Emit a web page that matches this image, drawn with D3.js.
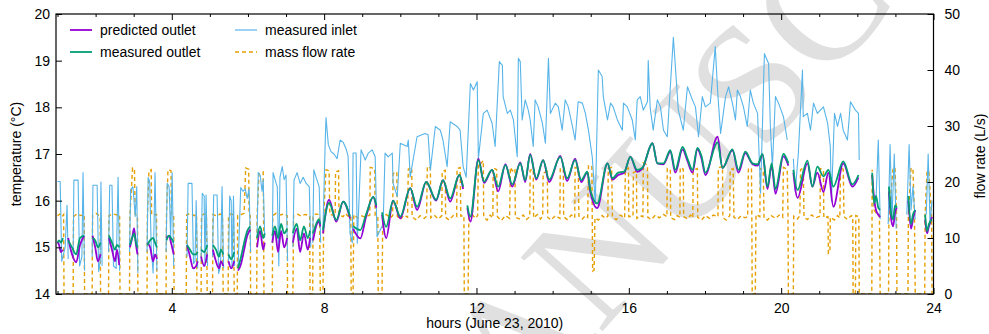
<!DOCTYPE html>
<html><head><meta charset="utf-8">
<script src="https://cdn.jsdelivr.net/npm/d3@7"></script>
<style>
html,body{margin:0;padding:0;background:#fff;}
svg{display:block;font-family:"Liberation Sans",Arial,Helvetica,sans-serif;}
</style></head><body>
<svg id="chart" width="989" height="334"></svg>
<script>
// ---------- tick labels / names ----------
const xTicksMajor = [4, 8, 12, 16, 20, 24];
const xTicksMinor = [1, 2, 3, 5, 6, 7, 9, 10, 11, 13, 14, 15, 17, 18, 19, 21, 22, 23];
const tempTicks = [14, 15, 16, 17, 18, 19, 20];
const flowTicks = [0, 10, 20, 30, 40, 50];
const seriesNames = ["predicted outlet", "measured outlet", "measured inlet", "mass flow rate"];

// ---------- data: [hour, value]; null = no data ----------
const predictedOutlet = [
[1.00,15.12],[1.04,15.05],[1.09,14.90],[1.14,14.95],[1.20,null],
[1.28,15.20],[1.38,14.85],[1.49,14.68],[1.59,15.05],[1.70,15.25],[1.80,null],
[1.92,15.25],[1.99,15.00],[2.06,14.70],[2.13,14.85],[2.25,null],
[2.35,15.20],[2.43,14.95],[2.51,14.70],[2.56,14.95],[2.62,14.62],[2.77,null],
[2.90,15.00],[2.96,15.20],[3.01,15.41],[3.06,15.05],[3.10,14.85],[3.22,null],
[3.36,15.10],[3.43,15.00],[3.51,14.70],[3.56,14.85],[3.61,14.75],[3.75,null],
[3.86,15.20],[3.93,15.25],[3.98,15.10],[4.05,14.85],[4.22,null],
[4.40,15.05],[4.48,14.80],[4.56,14.55],[4.64,14.60],[4.68,14.70],[4.72,null],
[4.77,14.80],[4.85,14.60],[4.93,14.85],[5.01,null],
[5.08,14.95],[5.16,14.70],[5.24,14.55],[5.29,14.70],[5.35,14.60],[5.43,null],
[5.49,14.70],[5.56,14.55],[5.64,14.70],[5.69,null],
[5.74,14.50],[5.82,14.65],[5.90,14.95],[5.98,15.25],[6.06,15.38],[6.14,null],
[6.24,15.00],[6.32,15.35],[6.40,14.95],[6.44,15.10],[6.53,null],
[6.64,15.10],[6.71,15.35],[6.79,14.90],[6.87,15.35],[6.95,15.00],[7.03,15.20],[7.11,null],
[7.18,15.10],[7.28,15.40],[7.37,14.90],[7.47,15.30],[7.57,14.95],[7.63,15.20],[7.67,null],
[7.71,15.15],[7.79,15.45],[7.86,15.55],[7.90,15.45],[7.94,null],
[7.97,15.30],[8.13,16.02],[8.32,15.55],[8.50,15.98],[8.68,15.62],[8.72,null],
[8.76,15.40],[8.95,15.19],[9.10,15.65],[9.29,16.08],[9.37,15.85],[9.45,null],
[9.52,15.70],[9.63,15.20],[9.81,16.00],[10.00,15.62],[10.26,16.27],[10.44,15.80],[10.68,16.40],[10.94,16.00],[11.12,16.44],[11.31,15.98],[11.55,16.55],[11.65,16.25],[11.70,null],
[11.76,15.85],[11.84,15.55],[12.05,16.90],[12.20,16.38],[12.41,16.66],[12.57,16.20],[12.76,16.78],[12.94,16.30],[13.15,16.82],[13.28,16.40],
[13.41,17.00],[13.57,16.45],[13.75,16.87],[13.91,16.40],[14.20,16.96],[14.38,16.42],[14.59,16.90],[14.75,16.40],[14.91,16.60],[14.99,16.19],
[15.17,15.84],[15.44,16.80],[15.57,16.45],[15.72,16.55],[15.88,16.60],[16.04,16.94],[16.22,16.62],[16.35,16.68],[16.62,17.23],[16.75,16.80],
[16.91,16.78],[17.09,17.05],[17.22,16.60],[17.41,17.10],[17.54,16.85],[17.67,16.60],[17.80,17.10],[17.91,16.90],[18.01,16.55],[18.33,17.37],
[18.46,16.70],[18.72,17.08],[18.88,16.60],[19.06,17.02],[19.25,16.78],[19.38,16.75],[19.51,16.98],[19.64,16.25],[19.75,16.75],[19.85,16.15],
[20.06,16.95],[20.19,16.75],[20.26,null],
[20.32,16.60],[20.43,16.06],[20.69,16.80],[20.82,16.30],[20.95,16.60],[21.11,16.19],[21.24,16.60],[21.37,15.87],[21.63,16.80],[21.87,16.30],[22.03,16.50],[22.21,null],
[22.39,16.55],[22.44,16.05],[22.49,15.80],[22.55,15.70],[22.60,15.65],[22.70,null],
[22.83,16.20],[22.89,15.60],[22.94,15.45],[22.99,15.75],[23.04,15.85],[23.17,null],
[23.34,16.00],[23.41,15.40],[23.46,15.60],[23.52,15.80],[23.65,null],
[23.78,15.60],[23.83,15.30],[23.88,15.45],[23.96,15.65]
];

const measuredOutlet = [
[1.00,15.10],[1.04,15.15],[1.09,15.10],[1.14,15.20],[1.20,null],
[1.28,15.15],[1.38,15.00],[1.49,14.85],[1.59,15.20],[1.70,15.25],[1.80,null],
[1.92,15.20],[1.99,15.15],[2.06,15.00],[2.13,15.10],[2.25,null],
[2.35,15.25],[2.43,15.10],[2.51,14.95],[2.56,15.05],[2.62,15.00],[2.77,null],
[2.90,15.05],[2.96,15.20],[3.01,15.30],[3.06,15.10],[3.10,15.00],[3.22,null],
[3.36,15.05],[3.43,15.15],[3.51,15.20],[3.56,15.10],[3.61,15.00],[3.75,null],
[3.86,15.15],[3.93,15.25],[3.98,15.20],[4.05,15.10],[4.22,null],
[4.40,15.05],[4.48,14.95],[4.56,14.85],[4.64,14.85],[4.68,14.90],[4.72,null],
[4.77,14.95],[4.85,14.90],[4.93,15.05],[5.01,null],
[5.08,15.05],[5.16,14.95],[5.24,14.80],[5.29,14.95],[5.35,14.85],[5.43,null],
[5.49,14.85],[5.56,14.75],[5.64,14.90],[5.69,null],
[5.74,14.55],[5.82,14.80],[5.90,15.10],[5.98,15.35],[6.06,15.45],[6.14,null],
[6.24,15.20],[6.32,15.45],[6.40,15.20],[6.44,15.30],[6.53,null],
[6.64,15.25],[6.71,15.45],[6.79,15.20],[6.87,15.50],[6.95,15.30],[7.03,15.40],[7.11,null],
[7.18,15.30],[7.28,15.50],[7.37,15.15],[7.47,15.45],[7.57,15.20],[7.63,15.35],[7.67,null],
[7.71,15.30],[7.79,15.50],[7.86,15.60],[7.90,15.50],[7.94,null],
[7.97,15.37],[8.13,15.95],[8.32,15.59],[8.50,15.98],[8.68,15.66],[8.72,null],
[8.76,15.45],[8.95,15.37],[9.10,15.70],[9.29,16.08],[9.37,15.90],[9.45,null],
[9.52,15.75],[9.63,15.44],[9.81,16.00],[10.00,15.66],[10.26,16.27],[10.44,15.87],[10.68,16.40],[10.94,16.02],[11.12,16.44],[11.31,16.05],[11.55,16.55],[11.65,16.30],[11.70,null],
[11.76,15.90],[11.84,15.66],[12.05,16.87],[12.20,16.41],[12.41,16.66],[12.57,16.30],[12.76,16.76],[12.94,16.35],[13.15,16.80],[13.28,16.44],
[13.41,16.98],[13.57,16.48],[13.75,16.87],[13.91,16.45],[14.20,16.94],[14.38,16.48],[14.59,16.87],[14.75,16.44],[14.91,16.62],[14.99,16.23],
[15.17,15.94],[15.44,16.80],[15.57,16.48],[15.72,16.60],[15.88,16.62],[16.04,16.94],[16.22,16.66],[16.35,16.70],[16.62,17.23],[16.75,16.80],
[16.91,16.80],[17.09,17.08],[17.22,16.66],[17.41,17.15],[17.54,16.90],[17.67,16.66],[17.80,17.13],[17.91,16.95],[18.01,16.60],[18.33,17.25],
[18.46,16.70],[18.72,17.10],[18.88,16.66],[19.06,17.05],[19.25,16.80],[19.38,16.78],[19.51,17.00],[19.64,16.30],[19.75,16.80],[19.85,16.25],
[20.06,17.00],[20.19,16.80],[20.26,null],
[20.32,16.66],[20.43,16.23],[20.69,16.86],[20.82,16.30],[20.95,16.73],[21.11,16.52],[21.24,16.66],[21.37,16.30],[21.63,16.84],[21.87,16.35],[22.03,16.55],[22.21,null],
[22.39,16.60],[22.44,15.95],[22.49,16.10],[22.55,15.85],[22.60,15.80],[22.70,null],
[22.83,16.30],[22.89,15.70],[22.94,15.60],[22.99,15.90],[23.04,15.85],[23.17,null],
[23.34,16.10],[23.41,15.50],[23.46,15.70],[23.52,15.80],[23.65,null],
[23.78,15.70],[23.83,15.35],[23.88,15.50],[23.96,15.60]
];

const measuredInlet = [
[1.00,16.41],[1.07,16.41],[1.11,14.70],[1.20,15.00],[1.25,15.90],[1.28,14.75],[1.33,null],
[1.41,14.80],[1.43,16.44],[1.54,16.44],[1.58,14.60],[1.64,14.80],[1.67,16.60],[1.71,14.50],[1.80,null],
[1.91,14.80],[1.93,16.33],[2.04,16.33],[2.08,14.48],[2.12,14.70],[2.14,16.40],[2.17,14.60],[2.25,null],
[2.34,14.90],[2.37,16.33],[2.43,16.33],[2.47,14.60],[2.54,14.55],[2.59,16.50],[2.63,14.50],[2.77,null],
[2.89,14.90],[2.92,16.23],[2.98,16.30],[3.04,15.66],[3.08,16.30],[3.11,14.45],[3.22,null],
[3.35,14.90],[3.38,16.50],[3.42,16.40],[3.46,15.00],[3.51,14.45],[3.56,16.60],[3.61,14.50],[3.75,null],
[3.85,14.90],[3.88,16.37],[3.93,16.30],[3.97,15.20],[4.01,16.60],[4.05,14.60],[4.22,null],
[4.40,14.80],[4.43,16.37],[4.53,16.37],[4.57,14.65],[4.61,14.70],[4.64,16.00],[4.68,14.55],[4.72,null],
[4.77,14.70],[4.80,16.16],[4.85,16.10],[4.87,14.60],[4.90,16.12],[4.94,14.60],[5.01,null],
[5.07,14.80],[5.10,16.12],[5.19,16.12],[5.23,14.44],[5.28,14.60],[5.32,16.30],[5.36,14.55],[5.43,null],
[5.49,14.70],[5.52,16.10],[5.56,16.00],[5.58,14.55],[5.62,16.10],[5.65,14.60],[5.69,null],
[5.74,14.55],[5.81,16.28],[5.87,16.20],[5.93,16.25],[5.98,16.05],[6.03,16.25],[6.07,14.90],[6.14,null],
[6.24,15.20],[6.27,16.60],[6.32,16.55],[6.37,16.20],[6.40,16.45],[6.44,15.20],[6.53,null],
[6.64,15.10],[6.66,16.60],[6.74,16.37],[6.77,16.30],[6.81,14.60],[6.84,16.50],[6.90,16.73],[6.95,16.45],[7.00,16.55],[7.04,14.70],[7.11,null],
[7.18,15.00],[7.21,16.44],[7.29,16.60],[7.37,16.37],[7.45,16.50],[7.53,16.37],[7.61,16.30],[7.65,15.00],[7.67,null],
[7.70,15.10],[7.73,16.66],[7.79,16.50],[7.87,16.30],[7.91,15.10],[7.94,null],
[7.97,15.40],[8.03,17.30],[8.05,17.78],[8.11,17.20],[8.18,17.05],[8.26,17.00],[8.34,16.90],[8.42,17.30],[8.50,17.25],[8.58,17.10],
[8.63,16.95],[8.68,15.30],[8.74,15.10],[8.76,17.02],[8.84,17.02],[8.87,15.09],[8.97,17.09],[9.08,16.87],[9.16,17.02],[9.26,17.09],
[9.34,16.94],[9.39,15.23],[9.55,15.50],[9.60,17.02],[9.68,16.94],[9.79,17.02],[9.81,16.37],[9.92,16.09],[10.00,17.23],[10.18,17.16],
[10.21,17.30],[10.26,16.51],[10.44,17.37],[10.65,17.44],[10.73,17.41],[10.79,16.66],[10.92,17.59],[11.05,17.51],[11.12,17.30],[11.23,16.73],
[11.31,17.69],[11.49,17.59],[11.57,17.51],[11.65,16.73],[11.73,16.50],[11.84,18.51],[11.92,18.37],[12.02,18.55],[12.05,16.90],[12.18,17.87],
[12.28,17.94],[12.41,17.66],[12.49,17.16],[12.60,18.98],[12.68,18.90],[12.70,18.23],[12.81,17.87],[12.89,17.94],[12.97,17.73],[13.07,16.94],
[13.10,19.05],[13.15,18.98],[13.20,17.73],[13.28,18.16],[13.36,17.94],[13.41,17.73],[13.49,17.16],[13.54,18.16],[13.62,18.01],[13.73,17.66],
[13.81,17.23],[13.89,19.05],[13.94,17.87],[14.07,18.09],[14.15,18.01],[14.25,17.51],[14.33,18.16],[14.41,18.01],[14.52,17.59],[14.59,17.30],
[14.67,18.12],[14.78,18.09],[14.86,17.87],[14.94,17.51],[15.04,16.94],[15.12,15.95],[15.20,18.80],[15.30,18.66],[15.33,18.23],[15.44,17.73],
[15.52,18.09],[15.59,18.01],[15.70,17.73],[15.83,17.51],[15.86,18.09],[15.96,18.01],[16.09,17.73],[16.17,17.30],[16.22,18.16],[16.30,18.23],
[16.38,17.94],[16.49,18.12],[16.51,19.00],[16.56,18.00],[16.64,17.51],[16.75,18.16],[16.83,18.01],[16.91,17.51],[17.01,17.37],[17.17,19.50],
[17.30,17.94],[17.43,17.51],[17.54,18.44],[17.67,18.16],[17.75,18.01],[17.83,17.37],[17.93,18.23],[18.01,18.01],[18.14,18.09],[18.27,19.30],
[18.33,18.37],[18.41,17.44],[18.54,18.23],[18.62,18.44],[18.72,18.09],[18.80,17.73],[18.85,18.37],[18.93,18.23],[19.01,18.01],[19.11,17.59],
[19.19,18.37],[19.27,18.09],[19.38,17.87],[19.46,16.16],[19.56,19.15],[19.67,18.94],[19.72,17.51],[19.77,16.73],[19.85,18.23],[19.93,18.09],
[20.06,17.80],[20.16,17.30],[20.24,null],
[20.32,16.90],[20.37,16.20],[20.45,17.00],[20.56,18.80],[20.58,17.80],[20.69,17.87],[20.77,17.51],[20.85,18.09],[20.95,17.87],[21.03,17.94],
[21.11,18.01],[21.22,17.66],[21.29,17.16],[21.32,16.00],[21.40,17.87],[21.48,17.59],[21.56,17.87],[21.63,17.51],[21.74,17.30],[21.82,18.12],
[21.95,17.94],[22.03,17.87],[22.05,16.87],[22.21,null],
[22.42,15.90],[22.49,16.00],[22.55,17.30],[22.60,15.60],[22.70,null],
[22.81,15.50],[22.86,17.20],[22.91,15.60],[22.97,17.00],[23.02,15.40],[23.17,null],
[23.30,15.70],[23.36,17.20],[23.41,15.80],[23.46,16.30],[23.52,15.60],[23.65,null],
[23.81,15.70],[23.86,17.00],[23.91,15.50],[23.96,16.00]
];

const massFlowRate = [
[1.00,14.0],[1.07,14.3],[1.12,13.8],[1.16,14.2],[1.17,0],
[1.41,0],[1.42,13.8],[1.51,14.3],[1.62,14.0],[1.70,14.2],[1.71,0],
[1.91,0],[1.92,14.1],[2.01,14.4],[2.12,13.9],[2.13,0],
[2.34,0],[2.35,14.0],[2.46,14.3],[2.56,14.1],[2.63,14.2],[2.64,0],
[2.89,0],[2.90,13.9],[2.97,22.5],[3.02,22.3],[3.04,14.2],[3.10,14.0],[3.11,0],
[3.35,0],[3.36,14.0],[3.40,22.0],[3.46,22.2],[3.47,14.1],[3.60,14.2],[3.61,0],
[3.85,0],[3.86,14.0],[3.90,22.2],[3.98,22.0],[3.99,14.1],[4.05,14.0],[4.06,0],
[4.38,0],[4.39,14.1],[4.48,14.4],[4.59,14.0],[4.65,14.2],[4.66,0],
[4.77,0],[4.78,14.0],[4.85,14.3],[4.91,14.1],[4.93,0],
[5.07,0],[5.08,14.2],[5.19,13.9],[5.27,14.3],[5.33,14.0],[5.35,0],
[5.48,0],[5.49,14.0],[5.56,14.3],[5.62,14.1],[5.64,0],
[5.72,0],[5.73,14.0],[5.82,14.2],[5.90,14.4],[5.94,22.5],[6.02,22.3],[6.03,14.2],[6.06,14.0],[6.07,0],
[6.23,0],[6.24,14.0],[6.29,21.5],[6.40,21.8],[6.41,14.0],[6.42,0],
[6.64,0],[6.65,14.0],[6.74,14.4],[6.84,14.1],[6.95,14.3],[7.03,14.0],[7.04,0],
[7.18,0],[7.20,14.1],[7.29,14.3],[7.40,13.9],[7.50,14.2],[7.62,14.0],[7.63,0],
[7.70,0],[7.71,14.0],[7.79,14.3],[7.88,14.1],[7.90,0],
[7.97,0],[7.99,14.0],[8.05,22.2],[8.13,22.0],[8.15,14.2],[8.29,14.0],[8.30,21.8],[8.38,22.0],[8.39,14.1],[8.50,13.8],[8.56,14.4],[8.63,13.9],[8.70,14.0],[8.71,0],
[8.76,0],[8.78,14.2],[8.87,13.6],[8.97,14.0],[9.08,13.7],[9.20,14.1],[9.21,22.6],[9.33,22.4],[9.34,14.0],[9.41,13.8],[9.42,0],
[9.52,0],[9.54,13.7],[9.63,14.2],[9.74,13.6],[9.80,14.0],[9.81,21.5],[9.91,21.8],[9.92,13.9],[10.00,13.3],[10.10,14.1],
[10.19,13.7],[10.21,22.3],[10.30,22.6],[10.31,13.8],[10.42,13.2],[10.52,14.0],[10.63,13.5],[10.69,13.9],[10.71,22.8],[10.79,22.5],
[10.80,13.6],[10.89,14.1],[11.00,13.4],[11.09,14.0],[11.10,21.9],[11.18,22.1],[11.19,13.7],[11.28,13.2],[11.39,14.0],[11.48,13.8],
[11.49,22.4],[11.57,22.6],[11.59,13.9],[11.67,14.0],[11.68,0],
[11.78,0],[11.80,13.6],[11.89,14.2],[11.97,13.5],[12.03,14.0],[12.05,24.0],[12.10,23.2],[12.18,23.8],[12.19,13.7],[12.28,13.2],
[12.36,14.1],[12.43,13.6],[12.44,22.5],[12.53,22.2],[12.55,13.8],[12.65,13.1],[12.76,14.0],[12.87,13.5],[12.89,22.6],[12.94,22.0],
[13.01,22.4],[13.02,13.7],[13.12,13.4],[13.23,14.1],[13.31,13.3],[13.40,13.8],[13.41,22.1],[13.49,22.3],[13.50,13.6],[13.60,14.2],
[13.68,13.4],[13.74,13.9],[13.75,21.6],[13.86,21.9],[13.87,13.7],[13.96,13.2],[14.07,14.0],[14.19,13.5],[14.20,22.5],[14.28,22.3],
[14.29,13.8],[14.38,13.3],[14.49,14.1],[14.58,13.6],[14.59,22.6],[14.67,22.4],[14.69,13.9],[14.78,13.4],[14.86,14.0],[14.92,13.7],
[14.94,23.0],[15.03,22.7],[15.04,13.8],[15.05,4.1],[15.09,4.3],[15.11,13.6],[15.20,13.2],[15.30,14.0],[15.38,13.5],[15.45,13.9],
[15.46,22.4],[15.55,22.6],[15.57,13.7],[15.67,13.3],[15.78,14.1],[15.89,13.6],[15.91,22.3],[15.99,22.5],[16.00,13.8],[16.11,13.9],
[16.12,21.7],[16.20,21.9],[16.21,13.5],[16.30,14.0],[16.37,13.8],[16.38,23.4],[16.49,23.0],[16.50,13.7],[16.59,13.3],[16.70,14.1],
[16.80,13.6],[16.91,14.2],[17.00,13.8],[17.01,22.4],[17.09,22.2],[17.10,13.6],[17.20,13.3],[17.27,14.0],[17.34,13.7],[17.35,22.6],
[17.43,22.3],[17.44,13.8],[17.54,13.4],[17.62,14.1],[17.68,13.6],[17.69,22.1],[17.80,22.4],[17.81,13.7],[17.91,13.2],[18.01,14.0],
[18.12,13.5],[18.22,14.1],[18.34,13.8],[18.35,22.5],[18.46,22.8],[18.47,13.6],[18.56,13.2],[18.65,14.0],[18.66,22.2],[18.74,22.4],
[18.76,13.7],[18.85,13.3],[18.95,14.0],[19.05,13.6],[19.12,13.8],[19.14,22.3],[19.22,22.5],[19.23,13.7],[19.24,0],[19.32,0],
[19.34,14.2],[19.44,13.8],[19.45,22.4],[19.53,22.2],[19.55,13.6],[19.64,13.2],[19.74,14.0],[19.85,13.5],[19.95,14.1],[20.04,13.7],
[20.06,22.6],[20.16,22.3],[20.18,13.8],[20.19,0],[20.32,0],[20.33,13.9],[20.43,13.4],[20.49,14.0],[20.51,22.2],[20.58,22.5],
[20.60,13.7],[20.69,13.3],[20.80,14.1],[20.90,13.6],[21.02,13.9],[21.03,22.4],[21.11,22.1],[21.12,13.6],[21.23,13.8],[21.24,7.3],
[21.28,7.6],[21.29,13.7],[21.40,13.2],[21.48,14.0],[21.54,13.6],[21.56,22.5],[21.63,22.3],[21.65,13.8],[21.74,13.3],[21.84,14.0],
[21.88,13.8],[21.89,0],[21.95,0],[21.96,14.0],[22.04,13.8],[22.05,0],
[22.38,0],[22.39,22.2],[22.44,15.0],[22.49,14.5],[22.58,14.2],[22.60,0],
[22.82,0],[22.83,14.0],[22.94,22.6],[22.99,22.4],[23.03,14.2],[23.04,0],
[23.33,0],[23.34,14.1],[23.41,22.5],[23.46,22.3],[23.50,14.0],[23.52,0],
[23.77,0],[23.78,14.2],[23.83,22.0],[23.88,21.8],[23.95,14.0],[23.96,0]
];

const colors = ["#9400D3", "#009E73", "#56B4E9", "#E69F00"];

// ---------- layout ----------
const svg = d3.select("#chart");
const L = 56, R = 933.5, T = 14, B = 294;
const x = d3.scaleLinear().domain([0.96, 24]).range([L, R]);
const y = d3.scaleLinear().domain([14, 20]).range([B, T]);
const y2 = d3.scaleLinear().domain([0, 50]).range([B, T]);

// watermark
const wm = svg.append("text")
  .attr("font-family", "'Liberation Serif','Times New Roman',serif")
  .attr("font-size", 168)
  .attr("fill", "#e0e0e0")
  .text("ACCEPTED MANUSCRIPT");
const off = wm.node().getSubStringLength(0, 9);
wm.attr("transform", `translate(418,536) rotate(-48) translate(${-off},0)`);

// clip
svg.append("defs").append("clipPath").attr("id", "plotclip")
  .append("rect").attr("x", L).attr("y", T).attr("width", R - L).attr("height", B - T);
const gData = svg.append("g").attr("clip-path", "url(#plotclip)");

const lineTemp = d3.line().defined(d => d[1] !== null).x(d => x(d[0])).y(d => y(d[1]));
const lineTempSmooth = d3.line().defined(d => d[1] !== null).x(d => x(d[0])).y(d => y(d[1])).curve(d3.curveMonotoneX);
const lineFlow = d3.line().x(d => x(d[0])).y(d => y2(d[1]));

gData.append("path").datum(massFlowRate).attr("d", lineFlow)
  .attr("fill", "none").attr("stroke", colors[3]).attr("stroke-width", 1.4).attr("stroke-dasharray", "4,3");
gData.append("path").datum(measuredInlet).attr("d", lineTemp)
  .attr("fill", "none").attr("stroke", colors[2]).attr("stroke-width", 1.1).attr("stroke-linejoin", "round");
gData.append("path").datum(predictedOutlet).attr("d", lineTempSmooth)
  .attr("fill", "none").attr("stroke", colors[0]).attr("stroke-width", 1.8).attr("stroke-linejoin", "round");
gData.append("path").datum(measuredOutlet).attr("d", lineTempSmooth)
  .attr("fill", "none").attr("stroke", colors[1]).attr("stroke-width", 1.8).attr("stroke-linejoin", "round");

// ---------- axes ----------
function styleAxis(g) {
  g.select(".domain").remove();
  g.selectAll("line").attr("stroke", "#000").attr("stroke-width", 1);
  g.selectAll("text").attr("font-size", 14).attr("fill", "#000")
    .attr("font-family", "'Liberation Sans',Arial,Helvetica,sans-serif");
}
svg.append("g").attr("transform", `translate(0,${B})`)
  .call(d3.axisBottom(x).tickValues(xTicksMajor).tickSize(-6).tickPadding(9).tickFormat(d3.format("d"))).call(styleAxis);
svg.append("g").attr("transform", `translate(0,${B})`)
  .call(d3.axisBottom(x).tickValues(xTicksMinor).tickSize(-3).tickFormat("")).call(styleAxis);
svg.append("g").attr("transform", `translate(0,${T})`)
  .call(d3.axisTop(x).tickValues(xTicksMajor).tickSize(-6).tickFormat("")).call(styleAxis);
svg.append("g").attr("transform", `translate(0,${T})`)
  .call(d3.axisTop(x).tickValues(xTicksMinor).tickSize(-3).tickFormat("")).call(styleAxis);
svg.append("g").attr("transform", `translate(${L},0)`)
  .call(d3.axisLeft(y).tickValues(tempTicks).tickSize(-6).tickPadding(6).tickFormat(d3.format("d"))).call(styleAxis);
svg.append("g").attr("transform", `translate(${R},0)`)
  .call(d3.axisRight(y2).tickValues(flowTicks).tickSize(-6).tickPadding(11).tickFormat(d3.format("d"))).call(styleAxis);

// frame
svg.append("rect").attr("x", L).attr("y", T).attr("width", R - L).attr("height", B - T)
  .attr("fill", "none").attr("stroke", "#000").attr("stroke-width", 1.2);

// axis titles
const fontFam = "'Liberation Sans',Arial,Helvetica,sans-serif";
svg.append("text").attr("transform", "translate(21,154) rotate(-90)")
  .attr("text-anchor", "middle").attr("font-size", 14).attr("font-family", fontFam).text("temperature (°C)");
svg.append("text").attr("transform", "translate(985,156) rotate(-90)")
  .attr("text-anchor", "middle").attr("font-size", 14).attr("font-family", fontFam).text("flow rate (L/s)");
svg.append("text").attr("x", (L + R) / 2).attr("y", 328)
  .attr("text-anchor", "middle").attr("font-size", 14).attr("font-family", fontFam).text("hours (June 23, 2010)");

// legend
const legendPos = [[70, 30], [70, 52], [235, 30], [235, 52]];
const legendW = [1.8, 1.8, 1.2, 1.4];
seriesNames.forEach((name, i) => {
  const [lx, ly] = legendPos[i];
  const ln = svg.append("line").attr("x1", lx).attr("x2", lx + 22).attr("y1", ly).attr("y2", ly)
    .attr("stroke", colors[i]).attr("stroke-width", legendW[i]);
  if (i === 3) ln.attr("stroke-dasharray", "4,3");
  svg.append("text").attr("x", lx + 30).attr("y", ly).attr("dy", "0.35em")
    .attr("font-size", 14).attr("font-family", fontFam).text(name);
});
</script>
</body></html>
